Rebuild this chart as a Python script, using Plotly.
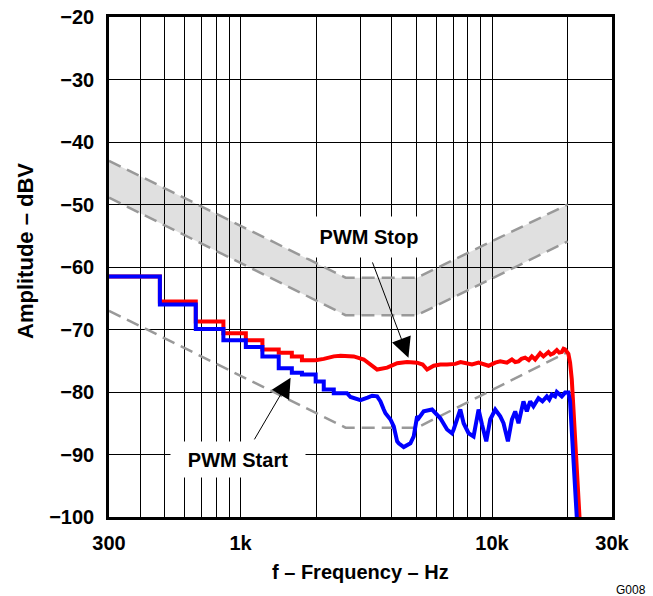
import numpy as np
import plotly.graph_objects as go

# ---- data ----
band_f = [300, 2616, 5037, 20000]
band_upper = [-43.0, -61.7, -61.7, -50.0]
band_lower = [-48.9, -67.7, -67.7, -55.9]

limit_f = [300, 2616, 5037, 20000]
limit_db = [-67.0, -85.7, -85.7, -73.6]

red_f = [300, 478, 478, 664, 664, 855, 855, 1050, 1050, 1222, 1222, 1419, 1419, 1600, 1600,
         1755, 1755, 1990, 2143, 2349, 2500, 2821, 3092, 3300, 3494, 3830, 4197, 4594, 5037,
         5300, 5521, 5866, 6232, 6626, 7148, 7500, 7831, 8325, 8843, 9250, 9689, 10301, 10782,
         11463, 12000, 12367, 12746, 13100, 13547, 14000, 14403, 14846, 15300, 15539, 16014,
         16500, 16762, 17100, 17548, 18102, 18500, 18946, 19250, 19525, 19800, 20122, 20436,
         20760, 22350]
red_db = [-61.5, -61.5, -65.5, -65.5, -68.7, -68.7, -70.6, -70.6, -71.7, -71.7, -73.2, -73.2,
          -73.7, -73.7, -74.3, -74.3, -74.9, -74.9, -74.7, -74.3, -74.2, -74.3, -74.8, -75.6,
          -76.4, -76.1, -75.4, -75.2, -75.3, -75.6, -76.4, -75.8, -75.6, -75.6, -75.5, -75.2,
          -75.3, -75.6, -75.3, -75.5, -75.8, -75.3, -75.1, -75.3, -74.8, -75.2, -75.1, -74.7,
          -74.5, -74.9, -74.3, -74.8, -74.2, -73.8, -74.3, -73.9, -73.6, -74.0, -73.8, -73.3,
          -73.7, -73.6, -73.1, -73.2, -73.5, -73.9, -75.3, -78.0, -101.0]

blue_f = [300, 478, 478, 664, 664, 855, 855, 1050, 1050, 1222, 1222, 1419, 1419, 1600, 1600,
          1755, 1755, 1990, 1990, 2143, 2143, 2349, 2349, 2652, 2737, 2821, 3000, 3200, 3338,
          3494, 3602, 3712, 3770, 3947, 4068, 4196, 4257, 4457, 4738, 4883, 5037, 5111, 5350,
          5776, 6232, 6626, 6935, 7038, 7259, 7482, 7711, 8071, 8447, 8843, 9124, 9489, 9840,
          10301, 10782, 11112, 11568, 12000, 12367, 12746, 13336, 13757, 14180, 14615, 15300,
          15868, 16519, 16900, 17291, 17821, 18100, 18367, 18946, 19525, 20122, 20436, 21800]
blue_db = [-61.5, -61.5, -66.0, -66.0, -69.9, -69.9, -71.7, -71.7, -72.8, -72.8, -74.3, -74.3,
           -76.2, -76.2, -76.9, -76.9, -77.2, -77.2, -78.3, -78.3, -79.6, -79.6, -80.2, -80.2,
           -80.8, -81.0, -81.3, -80.9, -80.6, -80.7, -81.5, -82.8, -83.4, -84.4, -85.5, -87.9,
           -88.2, -88.8, -88.2, -87.1, -83.9, -84.2, -83.1, -82.8, -84.2, -86.0, -86.6, -86.0,
           -84.2, -82.8, -85.0, -86.6, -87.1, -82.8, -85.2, -87.9, -84.4, -82.8, -83.9, -85.0,
           -87.9, -84.4, -83.1, -85.0, -81.5, -83.1, -81.5, -82.3, -81.0, -81.5, -80.7, -81.2,
           -80.4, -80.7, -80.0, -80.3, -80.7, -80.1, -80.1, -81.5, -101.0]

x_tickvals = [300, 1000, 10000, 30000]
x_ticktext = ["300", "1k", "10k", "30k"]
x_minor = [400, 500, 600, 700, 800, 900, 2000, 3000, 4000, 5000, 6000, 7000, 8000, 9000, 20000]
y_tickvals = [-100, -90, -80, -70, -60, -50, -40, -30, -20]
y_ticktext = ["\u2212100", "\u221290", "\u221280", "\u221270", "\u221260", "\u221250", "\u221240", "\u221230", "\u221220"]

stop_text = (3257, -55.2)
stop_arrow_from = (3257, -58.0)
stop_arrow_to = (4652, -74.5)
start_text = (979, -90.8)
start_arrow_from = (1105, -88.4)
start_arrow_to = (1582, -77.7)

FONT = "Arial, 'Liberation Sans', Helvetica, sans-serif"
GRAY = "#999999"

fig = go.Figure()
fig.add_trace(go.Scatter(x=band_f, y=band_lower, mode="lines",
                         line=dict(color=GRAY, width=2.5, dash="13px,7px"), showlegend=False))
fig.add_trace(go.Scatter(x=band_f, y=band_upper, mode="lines", fill="tonexty",
                         fillcolor="rgba(0,0,0,0.12)",
                         line=dict(color=GRAY, width=2.5, dash="13px,7px"), showlegend=False))
fig.add_trace(go.Scatter(x=limit_f, y=limit_db, mode="lines",
                         line=dict(color=GRAY, width=2.5, dash="13px,7px"), showlegend=False))
fig.add_trace(go.Scatter(x=red_f, y=red_db, mode="lines",
                         line=dict(color="#ff0000", width=4), showlegend=False))
fig.add_trace(go.Scatter(x=blue_f, y=blue_db, mode="lines",
                         line=dict(color="#0000ff", width=4), showlegend=False))

def L(v):
    return float(np.log10(v))

annotations = [
    dict(x=L(stop_arrow_to[0]), y=stop_arrow_to[1], ax=L(stop_arrow_from[0]), ay=stop_arrow_from[1],
         axref="x", ayref="y", xref="x", yref="y", text=" ", showarrow=True,
         arrowhead=2, arrowsize=4, arrowwidth=1, arrowcolor="black"),
    dict(x=L(start_arrow_to[0]), y=start_arrow_to[1], ax=L(start_arrow_from[0]), ay=start_arrow_from[1],
         axref="x", ayref="y", xref="x", yref="y", text=" ", showarrow=True,
         arrowhead=2, arrowsize=4, arrowwidth=1, arrowcolor="black"),
    dict(x=L(stop_text[0]), y=stop_text[1], xref="x", yref="y", text="<b>PWM Stop</b>",
         showarrow=False, bgcolor="white", width=122, height=38,
         font=dict(family=FONT, size=20, color="black")),
    dict(x=L(start_text[0]), y=start_text[1], xref="x", yref="y", text="<b>PWM Start</b>",
         showarrow=False, bgcolor="white", width=132, height=33,
         font=dict(family=FONT, size=20, color="black")),
    dict(x=0, y=0.532, xref="paper", yref="paper", xshift=-84, text="<b>Amplitude \u2013 dBV</b>",
         textangle=-90, showarrow=False, xanchor="center", yanchor="middle",
         font=dict(family=FONT, size=22, color="black")),
    dict(x=0.5, y=0, xref="paper", yref="paper", yshift=-55, text="<b>f \u2013 Frequency \u2013 Hz</b>",
         showarrow=False, xanchor="center", yanchor="middle",
         font=dict(family=FONT, size=20, color="black")),
    dict(x=1, y=0, xref="paper", yref="paper", xshift=19, yshift=-73, text="G008",
         showarrow=False, xanchor="center", yanchor="middle",
         font=dict(family=FONT, size=12, color="black")),
]

fig.update_layout(
    width=653, height=596,
    margin=dict(l=109, r=41, t=17, b=79),
    paper_bgcolor="white", plot_bgcolor="white",
    annotations=annotations,
    font=dict(family=FONT, color="black"),
)
fig.update_xaxes(type="log", range=[L(300), L(30000)],
                 tickvals=x_tickvals, ticktext=[f"<b>{t}</b>" for t in x_ticktext],
                 tickfont=dict(family=FONT, size=20, color="black"),
                 showgrid=True, gridcolor="black", gridwidth=1,
                 minor=dict(tickvals=x_minor, showgrid=True, gridcolor="black", gridwidth=1, ticks=""),
                 showline=True, linecolor="black", linewidth=2.5, mirror=True,
                 ticks="", ticklabelstandoff=6, zeroline=False, automargin=False,
                 ticklabeloverflow="allow")
fig.update_yaxes(range=[-100, -20], tickvals=y_tickvals,
                 ticktext=[f"<b>{t}</b>" for t in y_ticktext],
                 tickfont=dict(family=FONT, size=20, color="black"),
                 showgrid=True, gridcolor="black", gridwidth=1,
                 showline=True, linecolor="black", linewidth=2.5, mirror=True,
                 ticks="", ticklabelstandoff=8, zeroline=False, automargin=False,
                 ticklabeloverflow="allow")

# remove the default 8px page margin so the 653x596 figure fills the window exactly
fig.write_html("out.html",
               config={"displayModeBar": False},
               post_script="document.body.style.margin='0px';document.body.style.overflow='hidden';")
